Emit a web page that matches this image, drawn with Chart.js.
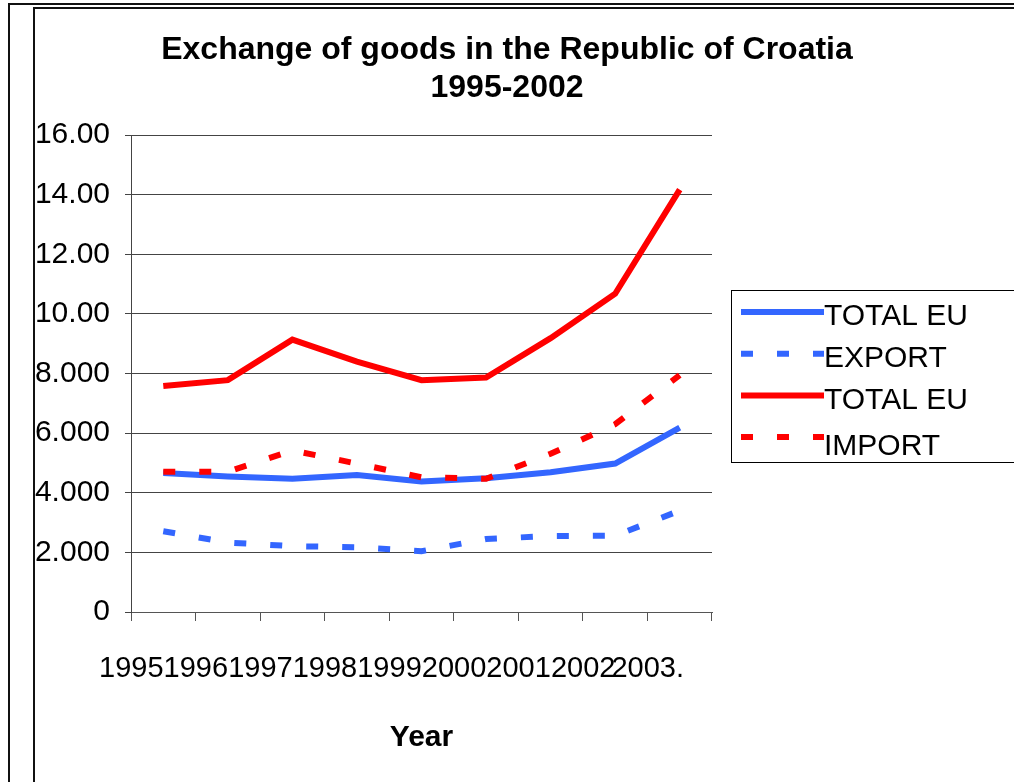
<!DOCTYPE html>
<html>
<head>
<meta charset="utf-8">
<script src="https://cdn.jsdelivr.net/npm/chart.js@4.4.1/dist/chart.umd.min.js"></script>
<style>
  html, body { margin: 0; padding: 0; background: #fff; overflow: hidden; }
  #wrap { position: relative; width: 1014px; height: 782px; }
  .frame { position: absolute; border: 2px solid #111; width: 1200px; height: 1000px; }
  #outer { left: 8px; top: 3px; }
  #inner { left: 33px; top: 7px; }
  canvas { position: absolute; left: 0; top: 0; }
</style>
</head>
<body>
<div id="wrap">
  <div class="frame" id="outer"></div>
  <div class="frame" id="inner"></div>
  <canvas id="c" width="1014" height="782"></canvas>
</div>
<script>
// data
const years = ['1995', '1996', '1997', '1998', '1999', '2000', '2001', '2002', '2003.'];
const totalExport = [4.66, 4.55, 4.47, 4.60, 4.38, 4.49, 4.69, 4.98, 6.19];
const euExport = [2.71, 2.33, 2.21, 2.17, 2.04, 2.45, 2.55, 2.56, 3.40];
const totalImport = [7.58, 7.78, 9.14, 8.40, 7.78, 7.87, 9.19, 10.68, 14.17];
const euImport = [4.71, 4.71, 5.42, 4.98, 4.52, 4.47, 5.31, 6.30, 7.95];
const seriesNames = ['TOTAL EU', 'EXPORT', 'TOTAL EU', 'IMPORT'];
const yTickLabels = ['0', '2.000', '4.000', '6.000', '8.000', '10.00', '12.00', '14.00', '16.00'];

const BLUE = '#3366ff';
const RED = '#ff0000';
const FONT = "'Liberation Sans', Arial, sans-serif";

// legend drawn by hand inside a framed box on the right
const boxLegend = {
  id: 'boxLegend',
  afterDraw(chart) {
    const ctx = chart.ctx;
    ctx.save();
    ctx.fillStyle = '#fff';
    ctx.fillRect(731, 290, 290, 172);
    ctx.strokeStyle = '#000';
    ctx.lineWidth = 1;
    ctx.strokeRect(731.5, 290.5, 290, 172);
    ctx.font = '30px ' + FONT;
    ctx.textBaseline = 'middle';
    ctx.textAlign = 'left';
    chart.data.datasets.forEach((ds, i) => {
      const y = 312 + i * 41.7;
      ctx.strokeStyle = ds.borderColor;
      ctx.lineWidth = 6;
      ctx.lineCap = 'butt';
      ctx.setLineDash(ds.borderDash || []);
      ctx.beginPath();
      ctx.moveTo(741, y);
      ctx.lineTo(824, y);
      ctx.stroke();
      ctx.setLineDash([]);
      ctx.fillStyle = '#000';
      ctx.fillText(ds.label, 824, y + (i === 3 ? 10 : 5));
    });
    ctx.restore();
  }
};

new Chart(document.getElementById('c'), {
  type: 'line',
  data: {
    labels: years,
    datasets: [
      { label: seriesNames[0], data: totalExport, borderColor: BLUE, order: 3 },
      { label: seriesNames[1], data: euExport, borderColor: BLUE, borderDash: [12, 24], order: 2 },
      { label: seriesNames[2], data: totalImport, borderColor: RED, order: 1 },
      { label: seriesNames[3], data: euImport, borderColor: RED, borderDash: [12, 24], order: 0 }
    ]
  },
  options: {
    responsive: false,
    animation: false,
    devicePixelRatio: 1,
    layout: { padding: 0 },
    elements: {
      line: { borderWidth: 6, tension: 0, borderCapStyle: 'butt', fill: false },
      point: { radius: 0, hoverRadius: 0 }
    },
    plugins: {
      legend: { display: false },
      tooltip: { enabled: false },
      title: {
        display: true,
        text: ['Exchange of goods in the Republic of Croatia', '1995-2002'],
        color: '#000',
        font: { family: FONT, size: 32, weight: 'bold', lineHeight: 1.19 },
        padding: { top: 31, bottom: 28 }
      }
    },
    scales: {
      x: {
        offset: true,
        grid: { offset: true, drawOnChartArea: false, drawTicks: true, tickLength: 9, color: '#555' },
        border: { display: true, color: '#555', width: 1 },
        ticks: {
          color: '#000',
          font: { family: FONT, size: 29 },
          labelOffset: -32,
          padding: 31,
          maxRotation: 0,
          autoSkip: false
        },
        title: {
          display: true,
          text: 'Year',
          color: '#000',
          font: { family: FONT, size: 30, weight: 'bold', lineHeight: 1.2 },
          padding: { top: 0, bottom: 26 }
        },
        afterFit(scale) { scale.height = 170; }
      },
      y: {
        min: 0,
        max: 16,
        grid: { color: '#444', tickLength: 6, drawTicks: true },
        border: { display: true, color: '#444', width: 1 },
        ticks: {
          stepSize: 2,
          color: '#000',
          font: { family: FONT, size: 30 },
          padding: 15,
          callback: (v) => yTickLabels[Math.round(v / 2)]
        },
        afterFit(scale) { scale.width = 131; }
      },
      // empty right-hand axis that only reserves the room the legend box sits in
      side: {
        position: 'right',
        min: 0,
        max: 16,
        grid: { display: false },
        border: { display: false },
        ticks: { display: false },
        afterFit(scale) { scale.width = 302; }
      }
    }
  },
  plugins: [boxLegend]
});
</script>
</body>
</html>
